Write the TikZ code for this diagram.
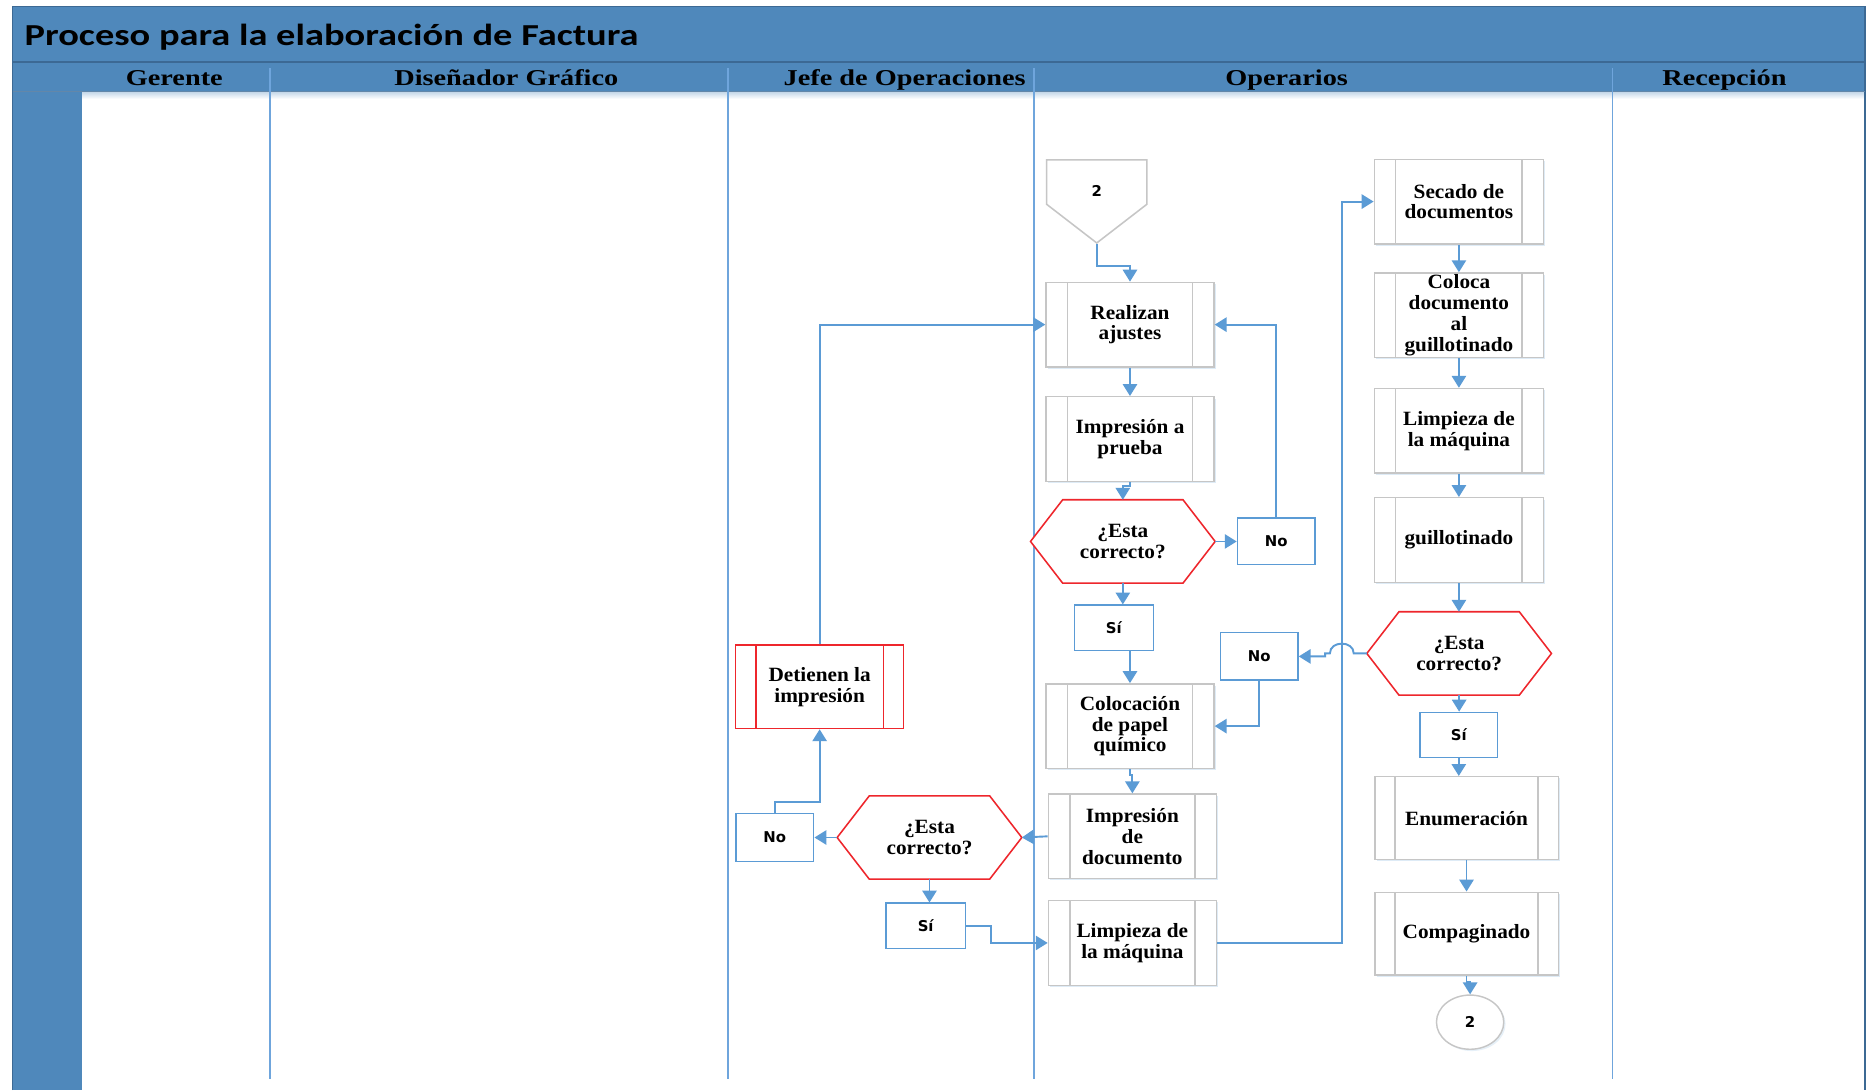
\documentclass[tikz,border=0pt]{standalone}
\usepackage{fontspec}
\setmainfont{Liberation Serif}
\newfontfamily\titlefont[FakeStretch=1.26]{Carlito}
\newfontfamily\lanefont[FakeStretch=1.25]{Liberation Serif}
\newfontfamily\boxfont[FakeStretch=1.05]{Liberation Serif}
\newfontfamily\tagfont{DejaVu Sans}
\usetikzlibrary{arrows.meta,shadows,shapes.geometric}

\definecolor{band}{RGB}{79,136,187}
\definecolor{bandedge}{RGB}{60,105,148}
\definecolor{flow}{RGB}{91,155,213}
\definecolor{lane}{RGB}{111,165,220}
\definecolor{boxedge}{RGB}{198,198,198}
\definecolor{alert}{RGB}{238,38,44}

\tikzset{
  boxtext/.style={font=\boxfont\bfseries\fontsize{17}{17.5}\selectfont, align=center},
  proc/.style={boxtext, draw=boxedge, line width=1.2pt, fill=white, inner sep=0pt,
    minimum width=141pt, minimum height=71pt,
    drop shadow={shadow xshift=1.5pt, shadow yshift=-1.5pt, opacity=0.2, fill=flow},
    path picture={
      \draw[boxedge, line width=1.2pt]
        ([xshift=#1]path picture bounding box.north west) -- ([xshift=#1]path picture bounding box.south west)
        ([xshift=-#1]path picture bounding box.north east) -- ([xshift=-#1]path picture bounding box.south east);
    }},
  proc/.default=18pt,
  stopbox/.style={boxtext, draw=alert, line width=1.3pt, fill=white, inner sep=0pt,
    minimum width=141pt, minimum height=70pt,
    path picture={
      \draw[alert, line width=1.3pt]
        ([xshift=17pt]path picture bounding box.north west) -- ([xshift=17pt]path picture bounding box.south west)
        ([xshift=-17pt]path picture bounding box.north east) -- ([xshift=-17pt]path picture bounding box.south east);
    }},
  ask/.style={boxtext, inner sep=0pt, outer sep=-1pt,
    minimum width=157pt, minimum height=72pt,
    path picture={
      \filldraw[fill=white, draw=alert, line width=1.3pt]
        ([xshift=1pt]path picture bounding box.west)
        -- ([xshift=28pt, yshift=-1pt]path picture bounding box.north west)
        -- ([xshift=-28pt, yshift=-1pt]path picture bounding box.north east)
        -- ([xshift=-1pt]path picture bounding box.east)
        -- ([xshift=-28pt, yshift=1pt]path picture bounding box.south east)
        -- ([xshift=28pt, yshift=1pt]path picture bounding box.south west)
        -- cycle;
    }},
  tag/.style={draw=flow, line width=1.3pt, fill=white, inner sep=0pt,
    minimum width=65pt, minimum height=39pt,
    font=\tagfont\bfseries\fontsize{12.5}{14}\selectfont},
  pagelink/.style={inner sep=0pt, minimum width=85.6pt, minimum height=71.5pt,
    text height=9pt, text depth=18pt,
    font=\tagfont\bfseries\fontsize{12.5}{14}\selectfont,
    path picture={
      \filldraw[fill=white, draw=boxedge, line width=1.3pt]
        ([xshift=0.7pt, yshift=-0.7pt]path picture bounding box.north west)
        -- ([xshift=-0.7pt, yshift=-0.7pt]path picture bounding box.north east)
        -- ([xshift=-0.7pt, yshift=-38pt]path picture bounding box.north east)
        -- ([yshift=1pt]path picture bounding box.south)
        -- ([xshift=0.7pt, yshift=-38pt]path picture bounding box.north west)
        -- cycle;
    }},
  endlink/.style={ellipse, draw=boxedge, line width=1.2pt, fill=white, inner sep=0pt,
    minimum width=56.5pt, minimum height=45.5pt,
    drop shadow={shadow xshift=1.5pt, shadow yshift=-1.5pt, opacity=0.15, fill=flow},
    font=\tagfont\bfseries\fontsize{12.5}{14}\selectfont},
  lanetitle/.style={anchor=base, font=\lanefont\bfseries\fontsize{19}{22}\selectfont},
  flowarrow/.style={draw=flow, line width=1.6pt, -{Triangle[width=12pt,length=10pt]}},
  laneline/.style={draw=lane, line width=1.6pt},
}

\begin{document}
\begin{tikzpicture}[x=1pt, y=-1pt]
\useasboundingbox (0,0) rectangle (1568,915);
\fill[white] (0,0) rectangle (1568,915);

% ---- frame: title band, lane header band, left strip
\fill[band] (10.6,5.6) rectangle (1565.5,52.3);
\fill[band] (10.6,52.3) rectangle (1565.5,76.8);
\fill[band] (10.6,76.8) rectangle (69,915);
\shade[top color=band!35, bottom color=white] (69,76.8) rectangle (1565.5,83);
\draw[bandedge, line width=1.2pt] (10.6,915) -- (10.6,5.6) -- (1565.5,5.6) -- (1565.5,915);
\draw[bandedge, line width=1.4pt] (10.6,52.3) -- (1565.5,52.3);
\draw[bandedge!80, line width=0.8pt] (10.6,76.8) -- (1565.5,76.8);

\node[anchor=base west, font=\titlefont\bfseries\fontsize{25.6}{30}\selectfont, inner sep=0pt]
  (title) at (20.5,37.8) {Proceso para la elaboración de Factura};

% ---- lane separators
\foreach \lx in {226.5, 611.2, 868, 1353.5}
  \draw[laneline] (\lx,57) -- (\lx,906);

% ---- lane titles
\node[lanetitle] (lgerente)  at (146.3,72) {Gerente};
\node[lanetitle] (ldisenador) at (425,72) {Diseñador Gráfico};
\node[lanetitle] (ljefe)     at (759.4,72) {Jefe de Operaciones};
\node[lanetitle] (loper)     at (1080,72) {Operarios};
\node[lanetitle] (lrecep)    at (1447.5,72) {Recepción};

% ---- Operarios, first column
\node[pagelink] (c2a) at (920.6,169.2) {2};
\node[proc] (rea)  at (948.5,272.5) {Realizan\\ajustes};
\node[proc] (imp)  at (948.5,368.5) {Impresión a\\prueba};
\node[ask]  (h1)   at (942.5,454.5) {¿Esta\\correcto?};
\node[tag]  (no1)  at (1071.2,454.5) {No};
\node[tag, minimum width=66.5pt, minimum height=38pt] (si1) at (935,527) {Sí};
\node[proc] (col)  at (948.5,609.5) {Colocación\\de papel\\químico};
\node[proc] (impd) at (950.5,702) {Impresión\\de\\documento};
\node[proc] (lim1) at (950.5,791.5) {Limpieza de\\la máquina};

% ---- Operarios, second column
\node[proc, minimum width=142pt] (sec)    at (1224.6,169.2) {Secado de\\documentos};
\node[proc, minimum width=142pt] (coloca) at (1224.6,264.6) {Coloca\\documento\\al\\guillotinado};
\node[proc, minimum width=142pt] (lim2)   at (1224.6,361.6) {Limpieza de\\la máquina};
\node[proc, minimum width=142pt] (guil)   at (1224.6,453.3) {guillotinado};
\node[ask]  (h2)  at (1224.8,548.5) {¿Esta\\correcto?};
\node[tag, minimum height=40pt] (no2) at (1057,551) {No};
\node[tag, minimum height=38pt] (si2) at (1224.5,617) {Sí};
\node[proc=17pt, minimum width=154pt, minimum height=69.5pt] (enu)  at (1231,686.7) {Enumeración};
\node[proc=17pt, minimum width=154pt, minimum height=69.5pt] (comp) at (1231,783.7) {Compaginado};
\node[endlink] (c2b) at (1234,858) {2};

% ---- Jefe de Operaciones
\node[stopbox] (det) at (688,576.5) {Detienen la\\impresión};
\node[ask] (h3) at (780.2,703) {¿Esta\\correcto?};
\node[tag, minimum width=65.4pt, minimum height=40.5pt] (no3) at (650.3,703) {No};
\node[tag, minimum width=67pt, minimum height=38pt] (si3) at (777,777.2) {Sí};

\coordinate (riser) at (1126.2,0);

% ---- connectors
\draw[flowarrow] (c2a.south) -- ++(0,18) -| (rea.north);
\draw[flowarrow] (rea.south) -- (imp.north);
\draw[flowarrow] (imp.south) -- ++(0,3) -| (h1.north);
\draw[flowarrow] (h1.east) -- (no1.west);
\draw[flowarrow] (no1.north) |- (rea.east);
\draw[flowarrow] (h1.south) -- (h1.south |- si1.north);
\draw[flowarrow] (col.north |- si1.south) -- (col.north);
\draw[flowarrow] (col.south) -- ++(0,5) -| (impd.north);
\draw[flowarrow] (impd.west) -- (h3.east);
\draw[flowarrow] (h3.west) -- (no3.east);
\draw[flowarrow] (no3.north) -- ++(0,-9) -| (det.south);
\draw[flowarrow] (det.north) |- (rea.west);
\draw[flowarrow] (h3.south) -- (h3.south |- si3.north);
\draw[flowarrow] (si3.east) -- ++(21,0) |- (lim1.west);
\draw[flowarrow] (lim1.east) -| (riser |- sec.west) -- (sec.west);

\draw[flowarrow] (sec.south) -- (coloca.north);
\draw[flowarrow] (coloca.south) -- (lim2.north);
\draw[flowarrow] (lim2.south) -- (guil.north);
\draw[flowarrow] (guil.south) -- (guil.south |- h2.north);
\draw[flowarrow] (h2.south) -- (h2.south |- si2.north);
\draw[flowarrow] (si2.south) -- (si2.south |- enu.north);
\draw[flowarrow] (enu.south) -- (comp.north);
\draw[flowarrow] (comp.south) -- ++(0,5) -| (c2b.north);
\draw[flowarrow] (h2.west) -- ++(-11,0) .. controls +(0,-11) and +(0,-11) .. ++(-20,0)
  -- ++(-4,0) |- (no2.east);
\draw[flowarrow] (no2.south) |- (col.east);
\end{tikzpicture}
\end{document}
